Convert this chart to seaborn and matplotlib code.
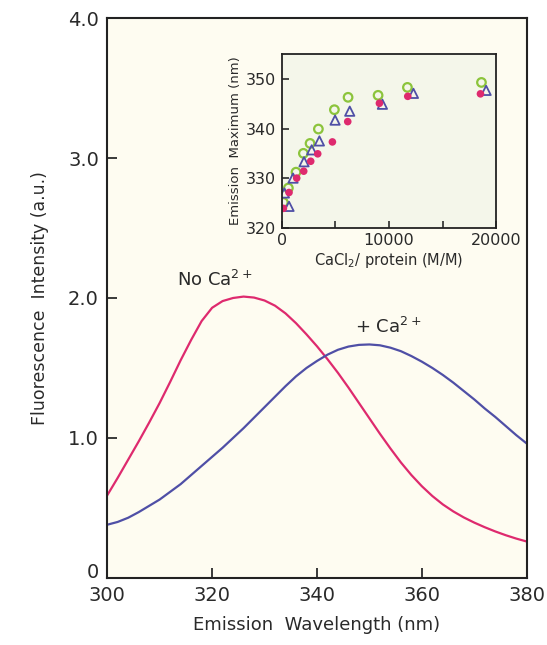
import matplotlib
matplotlib.use("Agg")
import matplotlib.pyplot as plt
import matplotlib.transforms as mtransforms
import seaborn as sns
import pandas as pd

# main spectra
wavelength = [300, 302, 304, 306, 308, 310, 312, 314, 316, 318, 320, 322, 324, 326, 328,
              330, 332, 334, 336, 338, 340, 342, 344, 346, 348, 350, 352, 354, 356, 358,
              360, 362, 364, 366, 368, 370, 372, 374, 376, 378, 380]
no_ca = [0.59, 0.715, 0.845, 0.975, 1.11, 1.25, 1.40, 1.555, 1.70, 1.835, 1.93, 1.978, 2.00, 2.01, 2.003,
         1.982, 1.945, 1.89, 1.82, 1.74, 1.655, 1.563, 1.465, 1.36, 1.25, 1.14, 1.03, 0.925, 0.825, 0.735,
         0.655, 0.585, 0.525, 0.475, 0.432, 0.395, 0.362, 0.332, 0.305, 0.281, 0.26]
plus_ca = [0.38, 0.40, 0.43, 0.47, 0.515, 0.56, 0.615, 0.67, 0.735, 0.80, 0.865, 0.93, 1.00, 1.07, 1.145,
           1.22, 1.295, 1.37, 1.44, 1.50, 1.55, 1.595, 1.63, 1.653, 1.665, 1.668, 1.662, 1.645, 1.62, 1.585,
           1.545, 1.50, 1.45, 1.395, 1.335, 1.275, 1.21, 1.15, 1.085, 1.02, 0.96]

# inset: emission maximum vs CaCl2/protein ratio
ratio_green = [155, 622, 1337, 2022, 2644, 3421, 4914, 6190, 8989, 11726, 18631]
emmax_green = [325.1, 328.0, 331.2, 335.0, 337.0, 339.9, 343.8, 346.3, 346.7, 348.3, 349.3]
ratio_blue = [249, 684, 1057, 2084, 2799, 3515, 4977, 6345, 9393, 12286, 19067]
emmax_blue = [327.0, 324.3, 330.0, 333.3, 335.7, 337.5, 341.7, 343.5, 344.9, 347.1, 347.7]
ratio_red = [155, 684, 1400, 2053, 2706, 3359, 4728, 6159, 9113, 11757, 18538]
emmax_red = [323.9, 327.1, 330.0, 331.4, 333.4, 334.9, 337.3, 341.4, 345.1, 346.5, 347.0]

main_xticks = [300, 320, 340, 360, 380]
main_yticks = [0, 1, 2, 3, 4]
main_yticklabels = ["0", "1.0", "2.0", "3.0", "4.0"]
inset_xticks = [0, 5000, 10000, 15000, 20000]
inset_xticklabels = ["0", "", "10000", "", "20000"]
inset_yticks = [320, 330, 340, 350]

PINK = "#de2a6e"
BLUE = "#4f4fa6"
GREEN = "#8cc43c"
TXT = "#2a2a2a"

sns.set_style("ticks")
plt.rcParams["font.family"] = ["DejaVu Sans"]
plt.rcParams["text.color"] = TXT
plt.rcParams["axes.labelcolor"] = TXT
plt.rcParams["xtick.color"] = TXT
plt.rcParams["ytick.color"] = TXT

fig = plt.figure(figsize=(5.47, 6.45), dpi=100)
fig.patch.set_facecolor("white")

ax = fig.add_axes([0.196, 0.104, 0.767, 0.868])
ax.set_facecolor("#fefcf1")
spec = pd.DataFrame({"wl": wavelength, "no": no_ca, "plus": plus_ca})
sns.lineplot(data=spec, x="wl", y="no", ax=ax, color=PINK, lw=1.6)
sns.lineplot(data=spec, x="wl", y="plus", ax=ax, color=BLUE, lw=1.6)
ax.set_xlim(300, 380)
ax.set_ylim(0, 4)
ax.set_xticks(main_xticks)
ax.set_yticks(main_yticks)
ax.set_yticklabels(main_yticklabels)
ax.tick_params(direction="in", length=7, width=1.3, labelsize=14, pad=6)
# lift the "0" a little so it sits above "300" as in the original
zero = ax.get_yticklabels()[0]
zero.set_transform(zero.get_transform() + mtransforms.ScaledTranslation(0, 5 / 72, fig.dpi_scale_trans))
for s in ax.spines.values():
    s.set_linewidth(1.5)
    s.set_color("#222222")
ax.set_xlabel("Emission  Wavelength (nm)", fontsize=13, labelpad=8)
ax.set_ylabel("Fluorescence  Intensity (a.u.)", fontsize=12.5, labelpad=14)
ax.text(313.3, 2.13, "No Ca$^{2+}$", fontsize=13, va="center")
ax.text(347.2, 1.79, "+ Ca$^{2+}$", fontsize=13, va="center")

# inset
ins = fig.add_axes([0.515, 0.647, 0.392, 0.269])
ins.set_facecolor("#f4f6ea")
sns.scatterplot(x=ratio_green, y=emmax_green, ax=ins, marker="o", s=38,
                facecolor="none", edgecolor=GREEN, linewidth=1.6)
sns.scatterplot(x=ratio_blue, y=emmax_blue, ax=ins, marker="^", s=45,
                facecolor="none", edgecolor=BLUE, linewidth=1.3)
sns.scatterplot(x=ratio_red, y=emmax_red, ax=ins, marker="o", s=30,
                color=PINK, edgecolor="none")
ins.set_xlim(0, 20000)
ins.set_ylim(320, 355)
ins.set_xticks(inset_xticks)
ins.set_xticklabels(inset_xticklabels)
ins.set_yticks(inset_yticks)
ins.tick_params(direction="in", length=5, width=1.2, labelsize=11.5, pad=4)
for s in ins.spines.values():
    s.set_linewidth(1.3)
    s.set_color("#222222")
ins.set_xlabel("CaCl$_2$/ protein (M/M)", fontsize=10.5, labelpad=2)
ins.set_ylabel("Emission  Maximum (nm)", fontsize=9.5, labelpad=3)

fig.savefig("out.png", dpi=100)
